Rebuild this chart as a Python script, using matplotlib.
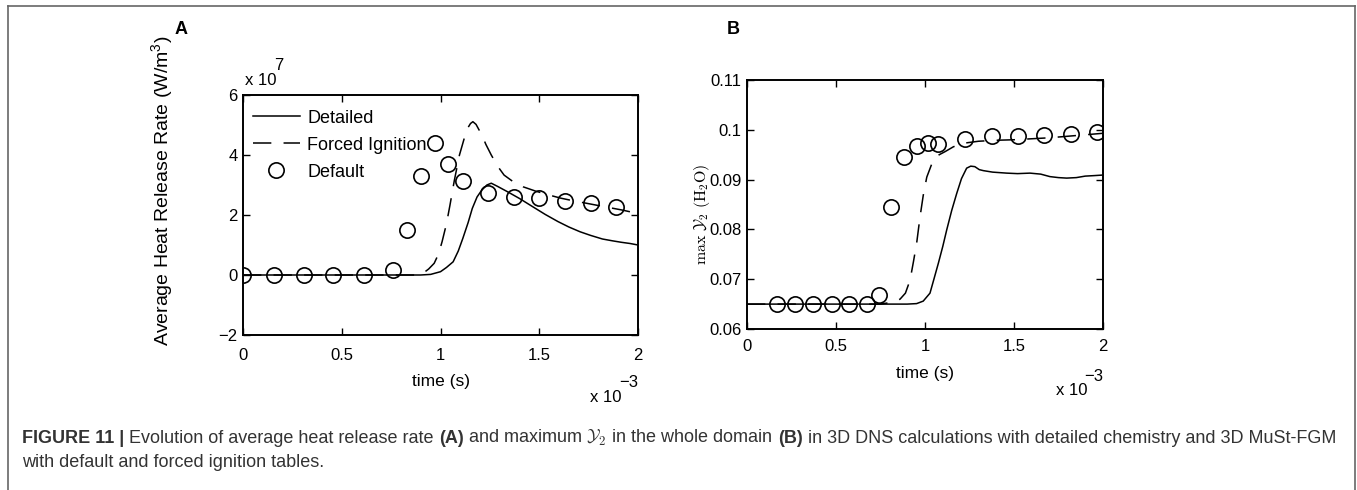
import matplotlib
matplotlib.use('Agg')
import matplotlib.pyplot as plt
from matplotlib.lines import Line2D

plt.rcParams['font.family'] = ['Liberation Sans', 'DejaVu Sans']
plt.rcParams['mathtext.fontset'] = 'custom'
plt.rcParams['mathtext.rm'] = 'Liberation Sans'
plt.rcParams['mathtext.it'] = 'Liberation Sans:italic'
plt.rcParams['mathtext.bf'] = 'Liberation Sans:bold'

W, H = 1357, 490

# ---- Panel A: average heat release rate (time in 1e-3 s, HRR in 1e7 W/m3) ----
t_det_a = [0, 0.9, 0.95, 1.0, 1.03, 1.064, 1.09, 1.113, 1.14, 1.161, 1.185, 1.209, 1.235,
           1.257, 1.29, 1.338, 1.40, 1.466, 1.53, 1.595, 1.65, 1.707, 1.76, 1.82, 1.87,
           1.916, 1.96, 2.0]
hrr_det_a = [0, 0, 0.02, 0.11, 0.25, 0.44, 0.8, 1.22, 1.75, 2.22, 2.6, 2.83, 3.0,
             3.06, 2.95, 2.78, 2.55, 2.28, 2.02, 1.78, 1.6, 1.44, 1.32, 1.2, 1.14,
             1.09, 1.05, 1.0]

t_frc_a = [0, 0.88, 0.912, 0.94, 0.968, 0.99, 1.008, 1.03, 1.048, 1.07, 1.096, 1.12, 1.137,
           1.152, 1.164, 1.18, 1.209, 1.23, 1.257, 1.29, 1.322, 1.37, 1.418, 1.48, 1.547,
           1.61, 1.675, 1.74, 1.804, 1.86, 1.916, 2.0]
hrr_frc_a = [0, 0, 0.06, 0.2, 0.39, 0.7, 1.11, 1.7, 2.33, 3.15, 4.0, 4.55, 4.89,
             5.05, 5.11, 5.02, 4.67, 4.35, 4.0, 3.62, 3.33, 3.1, 2.94, 2.8, 2.67,
             2.56, 2.47, 2.39, 2.31, 2.24, 2.17, 2.05]

t_def_a = [0, 0.156, 0.309, 0.457, 0.611, 0.762, 0.831, 0.9, 0.971, 1.04, 1.113,
           1.241, 1.37, 1.498, 1.63, 1.76, 1.887]
hrr_def_a = [0, 0, 0, 0, 0, 0.17, 1.5, 3.31, 4.41, 3.69, 3.13,
             2.74, 2.59, 2.56, 2.47, 2.39, 2.28]

# ---- Panel B: max Y2 (H2O) ----
t_det_b = [0, 0.9, 0.953, 0.99, 1.028, 1.05, 1.075, 1.1, 1.122, 1.15, 1.178, 1.205, 1.234,
           1.257, 1.28, 1.305, 1.328, 1.38, 1.459, 1.52, 1.59, 1.65, 1.702, 1.75, 1.796,
           1.85, 1.9, 1.95, 1.993]
y2_det_b = [0.065, 0.065, 0.0651, 0.0656, 0.0672, 0.070, 0.0732, 0.0766, 0.0799, 0.0838,
            0.0872, 0.0902, 0.0923, 0.0927, 0.0926, 0.0920, 0.0918, 0.0915, 0.0913, 0.0912,
            0.0913, 0.0911, 0.0906, 0.0904, 0.0903, 0.0904, 0.0907, 0.0908, 0.0909]

t_frc_b = [0, 0.75, 0.785, 0.83, 0.86, 0.89, 0.916, 0.935, 0.953, 0.972, 0.99, 1.01, 1.047,
           1.08, 1.112, 1.16, 1.216, 1.3, 1.4, 1.5, 1.6, 1.7, 1.8, 1.9, 2.0]
y2_frc_b = [0.065, 0.065, 0.0652, 0.0655, 0.066, 0.0672, 0.0698, 0.0735, 0.0772, 0.0825,
            0.0868, 0.0905, 0.094, 0.0950, 0.0956, 0.0966, 0.0973, 0.0977, 0.0979, 0.098,
            0.0982, 0.0984, 0.0987, 0.099, 0.0993]

t_def_b = [0.17, 0.27, 0.373, 0.476, 0.575, 0.672, 0.743, 0.809, 0.884, 0.953, 1.019,
           1.075, 1.225, 1.375, 1.524, 1.67, 1.82, 1.968]
y2_def_b = [0.065, 0.065, 0.065, 0.065, 0.065, 0.065, 0.0668, 0.0844, 0.0945, 0.0967,
            0.0973, 0.0972, 0.0981, 0.0988, 0.0988, 0.099, 0.0991, 0.0995]

x_ticks = [0, 0.5, 1, 1.5, 2]
x_ticklabels = ['0', '0.5', '1', '1.5', '2']


def fx(x):
    return x / W


def fy(y):
    return 1 - y / H


fig = plt.figure(figsize=(W / 100, H / 100), dpi=100)

ax_a = fig.add_axes([fx(243), fy(335), 395 / W, 240 / H])
ax_b = fig.add_axes([fx(747), fy(329), 356 / W, 249 / H])

dash = (0, (12, 8))
mk = dict(marker='o', linestyle='none', markersize=11, markerfacecolor='none',
          markeredgecolor='black', markeredgewidth=1.2)

ax_a.plot(t_det_a, hrr_det_a, color='black', lw=1.1, label='Detailed')
ax_a.plot(t_frc_a, hrr_frc_a, color='black', lw=1.1, linestyle=dash, label='Forced Ignition')
ax_a.plot(t_def_a, hrr_def_a, label='Default', **mk)
ax_a.set_xlim(0, 2)
ax_a.set_ylim(-2, 6)
ax_a.set_yticks([-2, 0, 2, 4, 6])
ax_a.legend(loc='upper left', bbox_to_anchor=(0, 0.98), frameon=False, fontsize=13,
            handlelength=2.6, handletextpad=0.4, labelspacing=0.55, borderaxespad=0.15)

ax_b.plot(t_det_b, y2_det_b, color='black', lw=1.1)
ax_b.plot(t_frc_b, y2_frc_b, color='black', lw=1.1, linestyle=dash)
ax_b.plot(t_def_b, y2_def_b, **mk)
ax_b.set_xlim(0, 2)
ax_b.set_ylim(0.06, 0.11)
ax_b.set_yticks([0.06, 0.07, 0.08, 0.09, 0.1, 0.11])
ax_b.set_yticklabels(['0.06', '0.07', '0.08', '0.09', '0.1', '0.11'])

for ax, xpad, lpad in ((ax_a, 9, 8), (ax_b, 7, 9)):
    ax.set_xticks(x_ticks)
    ax.set_xticklabels(x_ticklabels)
    ax.tick_params(direction='in', top=True, right=True, length=5, width=1.0,
                   labelsize=12)
    ax.tick_params(axis='x', pad=xpad)
    ax.tick_params(axis='y', pad=4)
    for s in ax.spines.values():
        s.set_linewidth(1.4)
    ax.set_xlabel('time (s)', fontsize=12.5, labelpad=lpad)

ax_a.set_ylabel('Average Heat Release Rate (W/m$^3$)', fontsize=14)
ax_a.yaxis.set_label_coords(-0.172, 0.6)
ax_b.set_ylabel(r'$\mathrm{max}\ \mathcal{Y}_2\ (\mathrm{H_2O})$', fontsize=11.5,
                math_fontfamily='cm')
ax_b.yaxis.set_label_coords(-0.098, 0.46)

# MATLAB style exponent labels
fig.text(fx(245), fy(85), 'x 10', fontsize=12, va='baseline', ha='left')
fig.text(fx(274), fy(70), '7', fontsize=12, va='baseline', ha='left')
fig.text(fx(622), fy(402), 'x 10', fontsize=12, va='baseline', ha='right')
fig.text(fx(638), fy(387), '\u22123', fontsize=12, va='baseline', ha='right')
fig.text(fx(1087), fy(395), 'x 10', fontsize=12, va='baseline', ha='right')
fig.text(fx(1103), fy(381), '\u22123', fontsize=12, va='baseline', ha='right')

# panel letters
fig.text(fx(181), fy(30), 'A', fontsize=13, weight='bold', ha='center', va='center')
fig.text(fx(733), fy(30), 'B', fontsize=13, weight='bold', ha='center', va='center')

# frame around figure
frame_c = '#666666'
fig.add_artist(Line2D([fx(8), fx(8)], [fy(6), -0.1], color=frame_c, lw=1.2))
fig.add_artist(Line2D([fx(8), fx(1355)], [fy(6), fy(6)], color=frame_c, lw=1.2))
fig.add_artist(Line2D([fx(1355), fx(1355)], [fy(6), -0.1], color=frame_c, lw=1.2))

# caption with mixed weights
renderer = fig.canvas.get_renderer()
cap_c = '#333333'
cap_size = 13.0
space = 5


def caption_row(pieces, x, y):
    for txt, weight in pieces:
        t = fig.text(fx(x), fy(y), txt, fontsize=cap_size, weight=weight, color=cap_c,
                     va='baseline', ha='left', math_fontfamily='cm')
        x += t.get_window_extent(renderer).width + space


caption_row([('FIGURE 11 |', 'bold'),
             ('Evolution of average heat release rate', 'normal'),
             ('(A)', 'bold'),
             (r'and maximum $\mathcal{Y}_2$ in the whole domain', 'normal'),
             ('(B)', 'bold'),
             ('in 3D DNS calculations with detailed chemistry and 3D MuSt-FGM', 'normal')],
            22, 443)
caption_row([('with default and forced ignition tables.', 'normal')], 22, 467)

plt.savefig('out.png', dpi=100)
plt.close()
